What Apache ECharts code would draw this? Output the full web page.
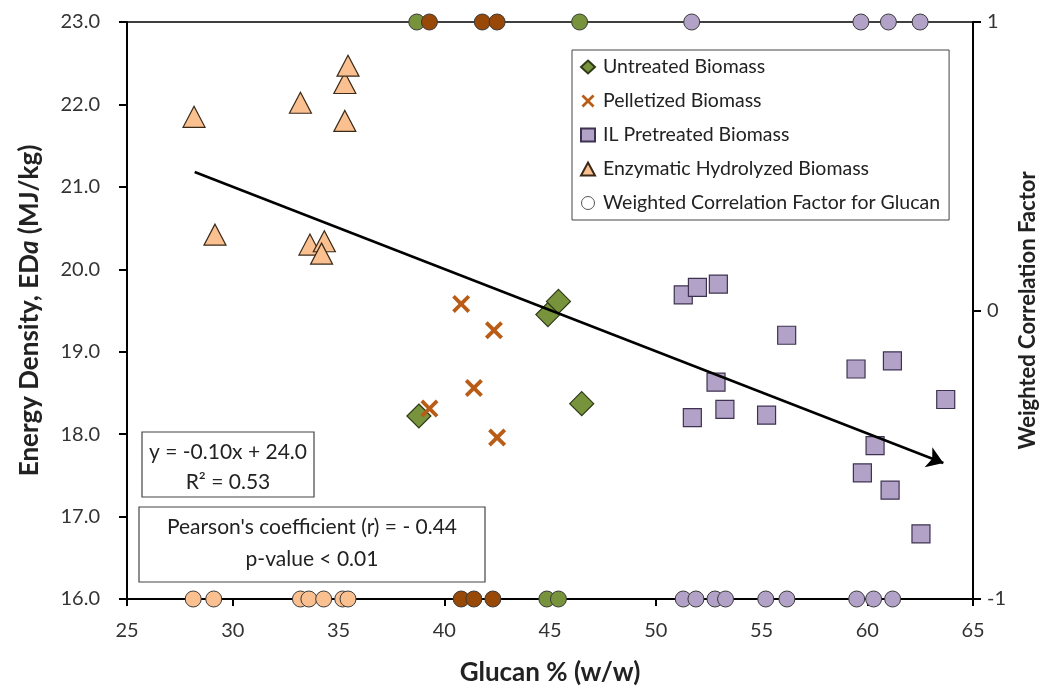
<!DOCTYPE html>
<html>
<head>
<meta charset="utf-8">
<script src="https://cdn.jsdelivr.net/npm/echarts@6/dist/echarts.min.js"></script>
<style>
  html, body { margin: 0; padding: 0; background: #fff; }
  #chart { width: 1049px; height: 691px; }
</style>
</head>
<body>
<div id="chart"></div>
<script>
// energy density vs glucan
var untreatedX = [38.8, 44.9, 45.4, 46.5];
var untreatedY = [18.22, 19.45, 19.61, 18.37];
var pelletX = [39.3, 40.8, 41.4, 42.35, 42.5];
var pelletY = [18.31, 19.58, 18.56, 19.26, 17.96];
var ilX = [51.3, 51.97, 52.96, 56.19, 52.85, 51.73, 53.27, 55.24, 59.47, 61.19, 63.71, 60.37, 59.77, 61.08, 62.54];
var ilY = [19.69, 19.78, 19.82, 19.20, 18.63, 18.20, 18.30, 18.23, 18.79, 18.89, 18.42, 17.86, 17.53, 17.32, 16.79];
var enzX = [28.17, 29.16, 33.2, 33.65, 34.33, 34.2, 35.3, 35.3, 35.45];
var enzY = [21.85, 20.42, 22.02, 20.30, 20.34, 20.19, 21.8, 22.26, 22.47];

// weighted correlation factor (right axis, -1 / 1)
var untreatedCorrX = [38.7, 46.4, 44.85, 45.4];
var untreatedCorr = [1, 1, -1, -1];
var pelletCorrX = [39.3, 41.8, 42.5, 40.8, 41.4, 42.3];
var pelletCorr = [1, 1, 1, -1, -1, -1];
var ilCorrX = [51.7, 59.7, 61.0, 62.5, 51.3, 51.9, 52.8, 53.3, 55.2, 56.2, 59.5, 60.3, 61.2];
var ilCorr = [1, 1, 1, 1, -1, -1, -1, -1, -1, -1, -1, -1, -1];
var enzCorrX = [28.13, 29.1, 33.2, 33.6, 34.3, 35.2, 35.45];
var enzCorr = [-1, -1, -1, -1, -1, -1, -1];

// trend arrow end points
var trendX = [28.2, 63.6];
var trendY = [21.18, 17.65];

function pairs(xs, ys) {
    return xs.map(function (x, i) { return [x, ys[i]]; });
}

var FONT = 'Lato';
var corrName = 'Weighted Correlation Factor for Glucan';
var xPath = 'path://M1.5,0 L5,3.5 L8.5,0 L10,1.5 L6.5,5 L10,8.5 L8.5,10 L5,6.5 L1.5,10 L0,8.5 L3.5,5 L0,1.5 Z';

var myChart = echarts.init(document.getElementById('chart'));

var option = {
    animation: false,
    textStyle: { fontFamily: FONT },
    grid: {
        left: 127, right: 76, top: 22, bottom: 91,
        show: true, borderColor: '#000', borderWidth: 1.5
    },
    legend: {
        orient: 'vertical',
        left: 572, top: 50,
        padding: [6, 9, 6, 8],
        borderColor: '#444', borderWidth: 1,
        itemWidth: 14, itemHeight: 13, itemGap: 12,
        textStyle: { fontFamily: FONT, fontSize: 19.5, color: '#222', lineHeight: 22, padding: [0, 0, 0, 3] },
        data: [
            { name: 'Untreated Biomass', icon: 'diamond' },
            { name: 'Pelletized Biomass', icon: xPath },
            { name: 'IL Pretreated Biomass', icon: 'rect' },
            { name: 'Enzymatic Hydrolyzed Biomass', icon: 'triangle' },
            { name: corrName, icon: 'circle', itemStyle: { color: '#fff', borderColor: '#555', borderWidth: 1 } }
        ]
    },
    xAxis: {
        type: 'value', min: 25, max: 65, interval: 5,
        name: 'Glucan % (w/w)', nameLocation: 'middle', nameGap: 61,
        nameTextStyle: { fontFamily: FONT, fontSize: 26, fontWeight: 'bold', color: '#222' },
        axisLine: { onZero: false, lineStyle: { color: '#000', width: 2 } },
        axisTick: { show: true, length: 7, lineStyle: { color: '#000', width: 2 } },
        axisLabel: { fontSize: 20, color: '#333', margin: 22 },
        splitLine: { show: false }
    },
    yAxis: [
        {
            type: 'value', min: 16, max: 23, interval: 1,
            name: '{b|Energy Density, ED}{i|a}{b| (MJ/kg)}',
            nameLocation: 'middle', nameGap: 84,
            nameTextStyle: {
                rich: {
                    b: { fontFamily: FONT, fontSize: 26, fontWeight: 'bold', color: '#222' },
                    i: { fontFamily: FONT, fontSize: 26, fontWeight: 'bold', fontStyle: 'italic', color: '#222' }
                }
            },
            axisLine: { show: true, onZero: false, lineStyle: { color: '#000', width: 2 } },
            axisTick: { show: true, length: 8, lineStyle: { color: '#000', width: 2 } },
            axisLabel: { fontSize: 20, color: '#333', margin: 27, formatter: function (v) { return v.toFixed(1); } },
            splitLine: { show: false }
        },
        {
            type: 'value', min: -1, max: 1, interval: 1, position: 'right',
            name: 'Weighted Correlation Factor', nameLocation: 'middle', nameGap: 42,
            nameRotate: 90,
            nameTextStyle: { fontFamily: FONT, fontSize: 22, fontWeight: 'bold', color: '#222' },
            axisLine: { show: true, onZero: false, lineStyle: { color: '#000', width: 2 } },
            axisTick: { show: true, length: 8, lineStyle: { color: '#000', width: 2 } },
            axisLabel: { fontSize: 20, color: '#333', margin: 14 },
            splitLine: { show: false }
        }
    ],
    graphic: [
        { type: 'rect', shape: { x: 142, y: 432, width: 172, height: 65 },
          style: { fill: '#fff', stroke: '#444', lineWidth: 1.2 }, z: 20 },
        { type: 'text', style: { text: 'y = -0.10x + 24.0', x: 228, y: 452, textAlign: 'center', textVerticalAlign: 'middle', font: '21px Lato', fill: '#222' }, z: 21 },
        { type: 'text', style: { text: 'R² = 0.53', x: 228, y: 482, textAlign: 'center', textVerticalAlign: 'middle', font: '21px Lato', fill: '#222' }, z: 21 },
        { type: 'rect', shape: { x: 139, y: 507, width: 346, height: 75 },
          style: { fill: '#fff', stroke: '#444', lineWidth: 1.2 }, z: 20 },
        { type: 'text', style: { text: "Pearson's coefficient (r) = - 0.44", x: 312, y: 527, textAlign: 'center', textVerticalAlign: 'middle', font: '21px Lato', fill: '#222' }, z: 21 },
        { type: 'text', style: { text: 'p-value < 0.01', x: 312, y: 559, textAlign: 'center', textVerticalAlign: 'middle', font: '21px Lato', fill: '#222' }, z: 21 }
    ],
    series: [
        {
            name: corrName, type: 'scatter', yAxisIndex: 1, symbol: 'circle', symbolSize: 16,
            itemStyle: { color: '#77933C', borderColor: '#3a3a3a', borderWidth: 1, opacity: 1 },
            data: pairs(untreatedCorrX, untreatedCorr), z: 3
        },
        {
            name: corrName, type: 'scatter', yAxisIndex: 1, symbol: 'circle', symbolSize: 16,
            itemStyle: { color: '#984807', borderColor: '#3a3a3a', borderWidth: 1, opacity: 1 },
            data: pairs(pelletCorrX, pelletCorr), z: 3
        },
        {
            name: corrName, type: 'scatter', yAxisIndex: 1, symbol: 'circle', symbolSize: 16,
            itemStyle: { color: '#B3A2C7', borderColor: '#3a3a3a', borderWidth: 1, opacity: 1 },
            data: pairs(ilCorrX, ilCorr), z: 3
        },
        {
            name: corrName, type: 'scatter', yAxisIndex: 1, symbol: 'circle', symbolSize: 16,
            itemStyle: { color: '#FAC090', borderColor: '#3a3a3a', borderWidth: 1, opacity: 1 },
            data: pairs(enzCorrX, enzCorr), z: 3
        },
        {
            name: 'Untreated Biomass', type: 'scatter', symbol: 'diamond', symbolSize: [24, 24],
            itemStyle: { color: '#77933C', borderColor: '#2e3a18', borderWidth: 1.2, opacity: 1 },
            data: pairs(untreatedX, untreatedY), z: 4
        },
        {
            name: 'Pelletized Biomass', type: 'scatter', symbol: xPath, symbolSize: 18,
            itemStyle: { color: '#B95C16', opacity: 1 },
            data: pairs(pelletX, pelletY), z: 5
        },
        {
            name: 'IL Pretreated Biomass', type: 'scatter', symbol: 'rect', symbolSize: 18,
            itemStyle: { color: '#B3A2C7', borderColor: '#3d3350', borderWidth: 1.2, opacity: 1 },
            data: pairs(ilX, ilY), z: 4
        },
        {
            name: 'Enzymatic Hydrolyzed Biomass', type: 'scatter', symbol: 'triangle', symbolSize: [22, 21],
            itemStyle: { color: '#FAC090', borderColor: '#3a2a1a', borderWidth: 1.2, opacity: 1 },
            data: pairs(enzX, enzY), z: 4
        },
        {
            type: 'lines', coordinateSystem: 'cartesian2d', silent: true, z: 10,
            symbol: ['none', 'arrow'], symbolSize: 16,
            lineStyle: { color: '#000', width: 2.5, opacity: 1 },
            data: [{ coords: pairs(trendX, trendY) }]
        }
    ]
};

myChart.setOption(option);
</script>
</body>
</html>
